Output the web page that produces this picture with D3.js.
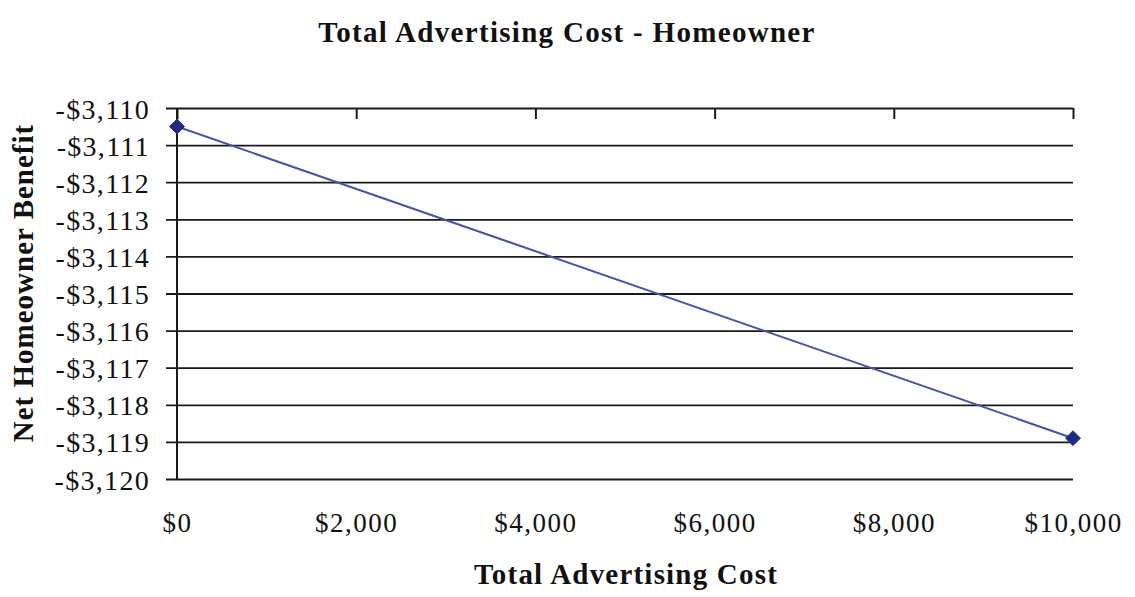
<!DOCTYPE html>
<html>
<head>
<meta charset="utf-8">
<script src="https://cdn.jsdelivr.net/npm/d3@7"></script>
<style>
  html, body { margin: 0; padding: 0; background: #fff; }
  svg { display: block; }
  text { font-family: "Liberation Serif", "Times New Roman", serif; fill: #111; }
</style>
</head>
<body>
<svg id="chart" width="1135" height="597"></svg>
<script>
// ---- data ----
const costs = [0, 10000];
const benefits = [-3110.5, -3118.9];
const xTickValues = [0, 2000, 4000, 6000, 8000, 10000];
const xTickLabels = ["$0", "$2,000", "$4,000", "$6,000", "$8,000", "$10,000"];
const yTickValues = [-3110, -3111, -3112, -3113, -3114, -3115, -3116, -3117, -3118, -3119, -3120];
const yTickLabels = ["-$3,110", "-$3,111", "-$3,112", "-$3,113", "-$3,114", "-$3,115", "-$3,116", "-$3,117", "-$3,118", "-$3,119", "-$3,120"];
const chartTitle = "Total Advertising Cost - Homeowner";
const xTitle = "Total Advertising Cost";
const yTitle = "Net Homeowner Benefit";

// ---- layout ----
const svg = d3.select("#chart");
const pL = 177, pR = 1073, pT = 108, pB = 479;

const x = d3.scaleLinear().domain([0, 10000]).range([pL, pR]);
const y = d3.scaleLinear().domain([-3120, -3110]).range([pB, pT]);

// gridlines + y axis
const yAxis = d3.axisLeft(y)
  .tickValues(yTickValues)
  .tickFormat((d, i) => yTickLabels[i])
  .tickSizeInner(-(pR - pL))
  .tickSizeOuter(0)
  .tickPadding(27);

const gy = svg.append("g").attr("transform", `translate(${pL},0)`).call(yAxis);
gy.select(".domain").remove();
gy.selectAll(".tick line")
  .attr("x1", -11)
  .attr("x2", pR - pL)
  .attr("stroke", "#1a1a1a")
  .attr("stroke-width", 1.8);
gy.selectAll(".tick text")
  .attr("font-size", 28)
  .attr("letter-spacing", 1.3)
  .attr("dy", "0.36em")
  .style("font-family", "'Liberation Serif', serif")
  .attr("fill", "#111");

// left axis line
svg.append("line")
  .attr("x1", pL).attr("x2", pL)
  .attr("y1", pT).attr("y2", pB)
  .attr("stroke", "#1a1a1a").attr("stroke-width", 2);

// top category axis (ticks pointing down)
const xTop = d3.axisTop(x)
  .tickValues(xTickValues)
  .tickFormat("")
  .tickSizeInner(-11)
  .tickSizeOuter(0);
const gxt = svg.append("g").attr("transform", `translate(0,${pT})`).call(xTop);
gxt.select(".domain").remove();
gxt.selectAll(".tick line").attr("stroke", "#1a1a1a").attr("stroke-width", 2);

// bottom labels
const xBottom = d3.axisBottom(x)
  .tickValues(xTickValues)
  .tickFormat((d, i) => xTickLabels[i])
  .tickSize(0)
  .tickPadding(34);
const gxb = svg.append("g").attr("transform", `translate(0,${pB})`).call(xBottom);
gxb.select(".domain").remove();
gxb.selectAll(".tick text")
  .attr("font-size", 27)
  .attr("letter-spacing", 1.5)
  .style("font-family", "'Liberation Serif', serif")
  .attr("fill", "#111");

// line
const line = d3.line().x((d, i) => x(costs[i])).y(d => y(d));
svg.append("path")
  .datum(benefits)
  .attr("d", line)
  .attr("fill", "none")
  .attr("stroke", "#4655a6")
  .attr("stroke-width", 2);

// markers
svg.selectAll(".marker")
  .data(benefits)
  .enter().append("path")
  .attr("class", "marker")
  .attr("d", d3.symbol().type(d3.symbolDiamond2).size(140))
  .attr("transform", (d, i) => `translate(${x(costs[i])},${y(d)})`)
  .attr("fill", "#1f2b80")
  .attr("stroke", "#1f2b80")
  .attr("stroke-width", 1);

// titles
svg.append("text")
  .attr("x", 567).attr("y", 42)
  .attr("text-anchor", "middle")
  .attr("font-size", 29)
  .attr("font-weight", "bold")
  .attr("letter-spacing", 1.3)
  .text(chartTitle);

svg.append("text")
  .attr("x", 626).attr("y", 584)
  .attr("text-anchor", "middle")
  .attr("font-size", 29)
  .attr("font-weight", "bold")
  .attr("letter-spacing", 1.2)
  .text(xTitle);

svg.append("text")
  .attr("transform", "translate(33,283) rotate(-90)")
  .attr("text-anchor", "middle")
  .attr("font-size", 29)
  .attr("font-weight", "bold")
  .attr("letter-spacing", 1)
  .text(yTitle);
</script>
</body>
</html>
